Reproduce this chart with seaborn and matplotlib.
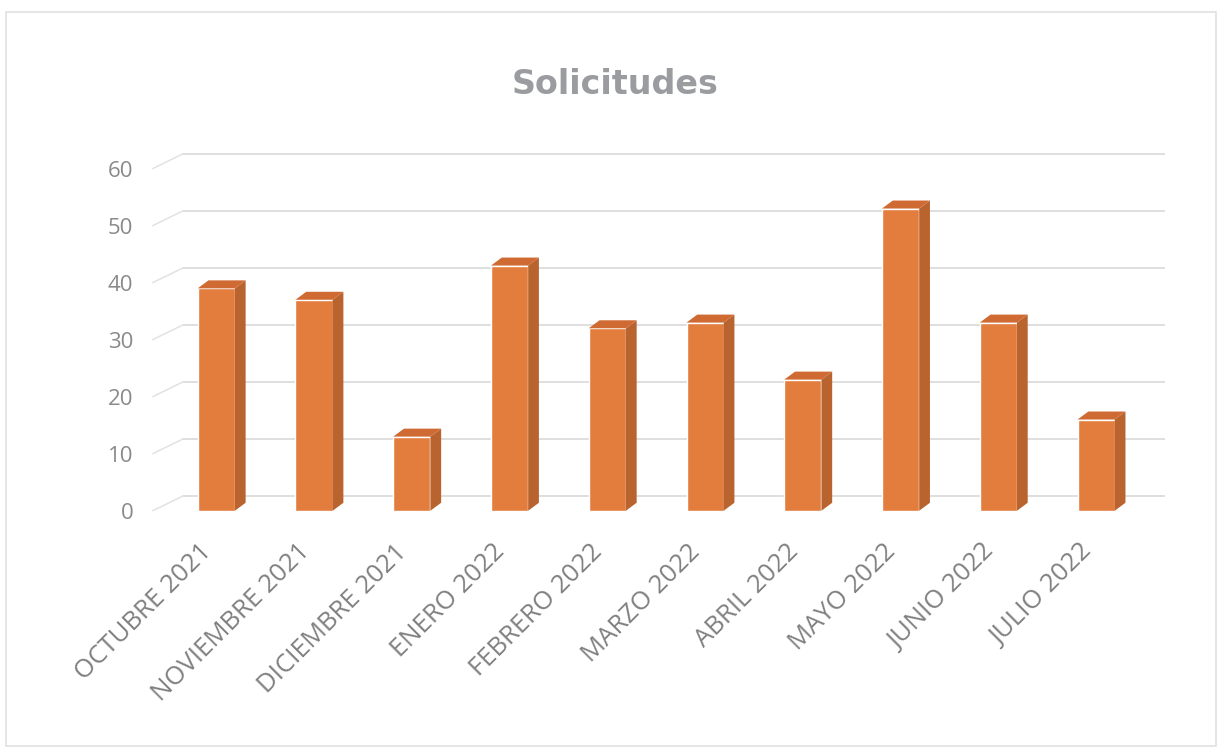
import matplotlib
matplotlib.use("Agg")
import matplotlib.pyplot as plt
import matplotlib.transforms as mtransforms
from matplotlib.patches import Polygon
import seaborn as sns
import pandas as pd

months = ["OCTUBRE 2021", "NOVIEMBRE 2021", "DICIEMBRE 2021", "ENERO 2022",
          "FEBRERO 2022", "MARZO 2022", "ABRIL 2022", "MAYO 2022",
          "JUNIO 2022", "JULIO 2022"]
solicitudes = [39, 37, 13, 43, 32, 33, 23, 53, 33, 16]
y_ticks = [0, 10, 20, 30, 40, 50, 60]

df = pd.DataFrame({"Mes": months, "Solicitudes": solicitudes})

sns.set_style("white")
plt.rcParams["font.family"] = ["Open Sans", "DejaVu Sans"]

fig = plt.figure(figsize=(12.22, 7.5), dpi=100)
ax = fig.add_axes([0.125, 0.319, 0.828, 0.479])

front = "#E37D3E"
side = "#B9632F"
top = "#D06A33"

sns.barplot(data=df, x="Mes", y="Solicitudes", color=front, width=0.38,
            saturation=1, ax=ax, zorder=3)

# fake 3D depth: side and top faces built from each bar
dx, dy = 0.11, 1.4
for p in ax.patches:
    x0, w, h = p.get_x(), p.get_width(), p.get_height()
    x1 = x0 + w
    ax.add_patch(Polygon([(x1, 0), (x1 + dx, dy), (x1 + dx, h + dy), (x1, h)],
                         closed=True, facecolor=side, edgecolor="none", zorder=3))
    ax.add_patch(Polygon([(x0, h), (x0 + dx, h + dy), (x1 + dx, h + dy), (x1, h)],
                         closed=True, facecolor=top, edgecolor="none", zorder=3))

# back-wall gridlines with a slanted floor/side stub
wall_dy = 2.6
x_left, x_wall, x_right = -0.65, -0.34, 9.7
for t in y_ticks:
    ax.plot([x_left, x_wall], [t, t + wall_dy], color="#E2E2E2", lw=1.1, zorder=1,
            clip_on=False)
    ax.hlines(t + wall_dy, x_wall, x_right, color="#D9D9D9", lw=1.2, zorder=1)

ax.set_xlim(x_left, x_right)
ax.set_ylim(0, 63)
ax.set_yticks(y_ticks)
ax.grid(False)
sns.despine(ax=ax, left=True, bottom=True)

ax.set_xlabel("")
ax.set_ylabel("")
ax.tick_params(axis="y", length=0, pad=14, labelsize=16, labelcolor="#8A8A8A")
ax.tick_params(axis="x", length=0, pad=27, labelsize=18.5, labelcolor="#808080")
shift = mtransforms.ScaledTranslation(-6 / 72, 0, fig.dpi_scale_trans)
for lbl in ax.get_xticklabels():
    lbl.set_rotation(45)
    lbl.set_ha("right")
    lbl.set_va("center")
    lbl.set_rotation_mode("anchor")
    lbl.set_transform(lbl.get_transform() + shift)

fig.text(0.503, 0.887, "Solicitudes", ha="center", va="center",
         fontsize=24, fontweight="bold", color="#9A9CA0",
         family=["DejaVu Sans"])

# light frame of the chart area
fig.patches.append(plt.Rectangle((0.005, 0.006), 0.99, 0.978, transform=fig.transFigure,
                                 fill=False, edgecolor="#E0E0E0", linewidth=1.2))

fig.savefig("out.png", dpi=100, facecolor="white")
